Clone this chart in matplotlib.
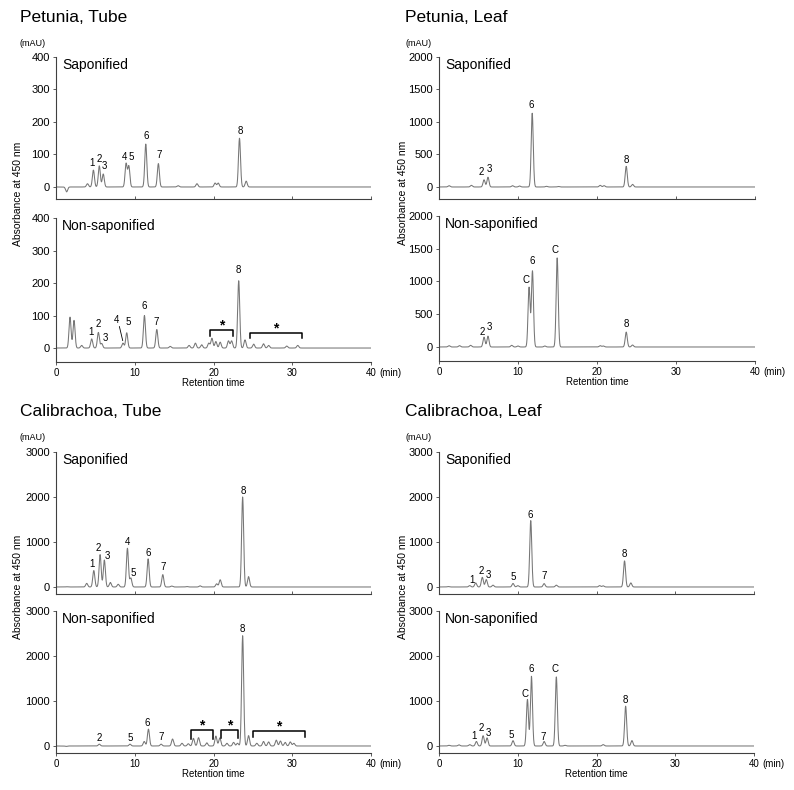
#Carotenoid HPLC chromatograms, Petunia / Calibrachoa, tube and leaf

#import modules
import numpy as np
import matplotlib.pyplot as plt

plt.rcParams['font.family'] = ['Liberation Sans', 'DejaVu Sans']

#Data: peak apex retention time (min) and height (mAU)

#Petunia, Tube
pt_sap_time = [1.35, 4.0, 4.75, 5.5, 6.0, 8.9, 9.25, 11.4, 13.0, 15.5, 17.9, 20.2, 20.6, 23.3, 24.15]
pt_sap_height = [-15, 10, 52, 65, 40, 72, 64, 132, 72, 4, 10, 12, 12, 150, 18]
pt_sap_labels = ["1", "2", "3", "4", "5", "6", "7", "8"]
pt_sap_lab_t = [4.53, 5.47, 6.19, 8.64, 9.53, 11.4, 13.05, 23.35]
pt_sap_lab_y = [74, 85, 64, 93, 91, 157, 98, 172]

pt_non_time = [1.78, 2.29, 3.26, 4.53, 5.38, 5.8, 8.5, 8.98, 11.23, 12.8, 14.5, 16.9, 17.7, 18.5,
               19.4, 19.8, 20.3, 20.85, 21.9, 22.3, 23.2, 24.0, 25.1, 26.35, 27.0, 29.3, 30.7]
pt_non_height = [95, 85, 8, 28, 48, 14, 15, 47, 100, 57, 5, 8, 15, 10,
                 15, 30, 20, 18, 22, 22, 207, 25, 12, 13, 8, 6, 8]
pt_non_labels = ["1", "2", "3", "4", "5", "6", "7", "8"]
pt_non_lab_t = [4.4, 5.38, 6.27, 7.71, 9.11, 11.23, 12.75, 23.2]
pt_non_lab_y = [49, 74, 31, 85, 79, 128, 80, 240]
pt_non_br_start = [19.5, 24.6]
pt_non_br_end = [22.5, 31.2]
pt_non_br_top = [54, 46]
pt_non_br_leg = [36, 31]

#Petunia, Leaf
pl_sap_time = [1.27, 4.1, 5.7, 6.2, 9.3, 10.2, 11.8, 13.6, 15.1, 20.4, 20.9, 23.7, 24.5]
pl_sap_height = [20, 25, 110, 150, 20, 15, 1135, 10, 8, 25, 20, 318, 40]
pl_sap_labels = ["2", "3", "6", "8"]
pl_sap_lab_t = [5.32, 6.34, 11.7, 23.7]
pl_sap_lab_y = [233, 275, 1254, 415]

pl_non_time = [1.27, 2.6, 4.0, 5.7, 6.2, 9.2, 10.0, 11.4, 11.83, 13.4, 14.96, 20.4, 20.8, 23.7, 24.5]
pl_non_height = [20, 20, 25, 150, 165, 25, 15, 910, 1160, 15, 1360, 20, 15, 228, 30]
pl_non_labels = ["2", "3", "C", "6", "C", "8"]
pl_non_lab_t = [5.45, 6.34, 10.98, 11.83, 14.7, 23.7]
pl_non_lab_y = [229, 305, 1028, 1308, 1476, 356]

#Calibrachoa, Tube
ct_sap_time = [1.36, 3.9, 4.8, 5.6, 6.14, 6.9, 7.9, 9.07, 9.5, 11.7, 13.56, 14.7, 16.6, 18.3,
               20.4, 20.85, 23.7, 24.45]
ct_sap_height = [5, 80, 365, 720, 600, 100, 60, 860, 200, 625, 275, 20, 10, 25,
                 70, 160, 2000, 230]
ct_sap_labels = ["1", "2", "3", "4", "5", "6", "7", "8"]
ct_sap_lab_t = [4.53, 5.42, 6.53, 9.03, 9.83, 11.69, 13.64, 23.73]
ct_sap_lab_y = [519, 874, 696, 1000, 319, 756, 444, 2133]

ct_non_time = [1.27, 5.5, 9.4, 11.2, 11.74, 13.35, 14.8, 16.0, 16.8, 17.45, 18.1, 19.15, 20.3, 20.8,
               21.7, 22.55, 23.05, 23.7, 24.45, 25.5, 26.35, 27.0, 27.97, 28.5, 29.1, 29.75, 30.2]
ct_non_height = [-10, 40, 40, 100, 375, 40, 155, 60, 50, 170, 185, 70, 220, 180,
                 60, 80, 60, 2450, 230, 60, 100, 90, 130, 110, 80, 90, 60]
ct_non_labels = ["2", "5", "6", "7", "8"]
ct_non_lab_t = [5.51, 9.49, 11.61, 13.39, 23.69]
ct_non_lab_y = [170, 170, 519, 193, 2600]
ct_non_br_start = [17.1, 21.0, 25.0]
ct_non_br_end = [19.9, 23.05, 31.65]
ct_non_br_top = [356, 356, 333]
ct_non_br_leg = [156, 170, 200]

#Calibrachoa, Leaf
cl_sap_time = [1.15, 3.9, 4.66, 5.5, 6.0, 6.86, 9.4, 10.0, 11.65, 13.35, 14.9, 20.4, 20.85, 23.56, 24.36]
cl_sap_height = [10, 30, 90, 215, 165, 40, 78, 30, 1475, 75, 40, 30, 25, 580, 90]
cl_sap_labels = ["1", "2", "3", "5", "6", "7", "8"]
cl_sap_lab_t = [4.24, 5.38, 6.27, 9.4, 11.57, 13.3, 23.47]
cl_sap_lab_y = [148, 356, 267, 222, 1593, 244, 726]

cl_non_time = [1.27, 2.54, 3.9, 4.75, 5.6, 6.1, 9.4, 11.23, 11.74, 13.35, 14.9, 16.0, 20.85, 23.7, 24.5]
cl_non_height = [15, 25, 30, 100, 228, 180, 118, 1035, 1550, 100, 1535, 15, 30, 885, 120]
cl_non_labels = ["1", "2", "3", "5", "C", "6", "7", "C", "8"]
cl_non_lab_t = [4.4, 5.34, 6.27, 9.19, 10.93, 11.69, 13.22, 14.75, 23.64]
cl_non_lab_y = [230, 407, 281, 244, 1156, 1711, 207, 1704, 1022]

#Define functions
rt = np.linspace(0, 40, 4001)
SIGMA = 0.13
LINE = '#767676'
AXC = '#404040'

fig = plt.figure(figsize=(7.94, 7.90), dpi=100)


def px_axes(x0, y0, x1, y1):
    return fig.add_axes([x0 / 794, 1 - y1 / 790, (x1 - x0) / 794, (y1 - y0) / 790])


#Each peak drawn as a narrow gaussian around its apex
def chromatogram(times, heights):
    y = np.zeros_like(rt)
    for ti, hi in zip(times, heights):
        y += hi * np.exp(-0.5 * ((rt - ti) / SIGMA) ** 2)
    return y


def draw_trace(ax, times, heights, labels, lab_t, lab_y, ymax, ybot, step, caption, bottom):
    ax.plot(rt, chromatogram(times, heights), color=LINE, lw=0.75)
    ax.set_xlim(0, 40)
    ax.set_ylim(ybot, ymax)
    ax.set_yticks(np.arange(0, ymax + 1, step))
    ax.set_xticks([0, 10, 20, 30, 40])
    ax.spines['top'].set_visible(False)
    ax.spines['right'].set_visible(False)
    for s in ['left', 'bottom']:
        ax.spines[s].set_color(AXC)
        ax.spines[s].set_linewidth(0.8)
    ax.tick_params(axis='y', direction='out', length=2.5, width=0.6, pad=2,
                   labelsize=8, color=AXC)
    if bottom:
        ax.tick_params(axis='x', direction='out', length=2.5, width=0.6, pad=1.5,
                       labelsize=7, color=AXC)
        ax.set_xlabel("Retention time", fontsize=7, labelpad=0.5)
        ax.annotate("(min)", xy=(1, 0), xycoords='axes fraction', xytext=(6, -4.3),
                    textcoords='offset points', ha='left', va='top', fontsize=7)
    else:
        ax.tick_params(axis='x', direction='in', length=2.5, width=0.6,
                       labelbottom=False, color=AXC)
    ax.text(0.02, 0.995, caption, transform=ax.transAxes, ha='left', va='top', fontsize=10)
    for lab, lt, ly in zip(labels, lab_t, lab_y):
        ax.text(lt, ly, lab, ha='center', va='center', fontsize=7)


def draw_brackets(ax, starts, ends, tops, legs):
    for t0, t1, top, leg in zip(starts, ends, tops, legs):
        ax.plot([t0, t0, t1, t1], [leg, top, top, leg], color='black', lw=1.1)
        ax.annotate("*", xy=((t0 + t1) / 2, top), xytext=(0, 0.5), textcoords='offset points',
                    ha='center', va='baseline', fontsize=10, fontweight='bold')


#Main Script
#panel layout in pixels: (left, right, top-axes top, top-axes bottom, bottom-axes top, bottom-axes bottom)
panels = [
    ("Petunia, Tube", 56, 371, 57, 199, 218, 362),
    ("Petunia, Leaf", 439, 755, 57, 199, 216, 361),
    ("Calibrachoa, Tube", 56, 371, 452, 594, 611, 753),
    ("Calibrachoa, Leaf", 439, 754, 452, 594, 611, 753),
]
axes = []
for title, x0, x1, a0, a1, b0, b1 in panels:
    ax_top = px_axes(x0, a0, x1, a1)
    ax_bot = px_axes(x0, b0, x1, b1)
    axes.append((ax_top, ax_bot))
    lx = 20 if x0 < 200 else 405
    fig.text(lx / 794, 1 - (a0 - 40) / 790, title, ha='left', va='center', fontsize=12.5)
    fig.text(lx / 794, 1 - (a0 - 14) / 790, "(mAU)", ha='left', va='center', fontsize=6.5)
    fig.text((lx - 2) / 794, 1 - ((a0 + b1) / 2 - 16) / 790, "Absorbance at 450 nm",
             rotation=90, ha='center', va='center', fontsize=7.5)

(a, b), (c, d), (e, f), (g, h) = axes

draw_trace(a, pt_sap_time, pt_sap_height, pt_sap_labels, pt_sap_lab_t, pt_sap_lab_y,
           400, -37, 100, "Saponified", False)
draw_trace(b, pt_non_time, pt_non_height, pt_non_labels, pt_non_lab_t, pt_non_lab_y,
           400, -43, 100, "Non-saponified", True)
b.plot([8.05, 8.47], [66, 23], color='black', lw=0.6)
draw_brackets(b, pt_non_br_start, pt_non_br_end, pt_non_br_top, pt_non_br_leg)

draw_trace(c, pl_sap_time, pl_sap_height, pl_sap_labels, pl_sap_lab_t, pl_sap_lab_y,
           2000, -185, 500, "Saponified", False)
draw_trace(d, pl_non_time, pl_non_height, pl_non_labels, pl_non_lab_t, pl_non_lab_y,
           2000, -214, 500, "Non-saponified", True)

draw_trace(e, ct_sap_time, ct_sap_height, ct_sap_labels, ct_sap_lab_t, ct_sap_lab_y,
           3000, -156, 1000, "Saponified", False)
draw_trace(f, ct_non_time, ct_non_height, ct_non_labels, ct_non_lab_t, ct_non_lab_y,
           3000, -156, 1000, "Non-saponified", True)
draw_brackets(f, ct_non_br_start, ct_non_br_end, ct_non_br_top, ct_non_br_leg)

draw_trace(g, cl_sap_time, cl_sap_height, cl_sap_labels, cl_sap_lab_t, cl_sap_lab_y,
           3000, -156, 1000, "Saponified", False)
draw_trace(h, cl_non_time, cl_non_height, cl_non_labels, cl_non_lab_t, cl_non_lab_y,
           3000, -156, 1000, "Non-saponified", True)

fig.savefig("out.png", dpi=100)
